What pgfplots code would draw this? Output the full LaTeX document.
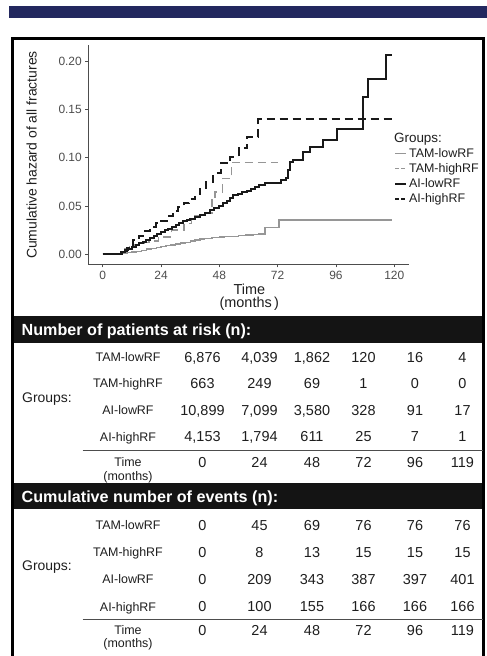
\documentclass[border=0pt]{standalone}
\usepackage{fontspec}
\setmainfont{Liberation Sans}
\usepackage{pgfplots}
\pgfplotsset{compat=1.18}
\definecolor{navy}{RGB}{35,40,95}
\definecolor{tamgrey}{RGB}{150,150,150}
\definecolor{aiblack}{RGB}{25,25,25}
\definecolor{tickgrey}{RGB}{77,77,77}
\definecolor{txt}{RGB}{30,30,30}
\newcommand{\fs}[1]{\fontsize{#1}{#1}\selectfont}
% numbers: baseline = centre + 5.2bp ; names: + 4.5bp
\newcommand{\num}[2]{\node[anchor=base, font=\fs{14.5}, text=txt, inner sep=0pt] at (#1,-#2-5.2) {\strut};}
\newcommand{\trow}[8]{%
  \node[anchor=base, font=\fs{12.5}, text=txt, inner sep=0pt] at (128,-#1-4.5) {#2};
  \node[anchor=base, font=\fs{14.5}, text=txt, inner sep=0pt] at (202.5,-#1-5.2) {#3};
  \node[anchor=base, font=\fs{14.5}, text=txt, inner sep=0pt] at (259.5,-#1-5.2) {#4};
  \node[anchor=base, font=\fs{14.5}, text=txt, inner sep=0pt] at (312,-#1-5.2) {#5};
  \node[anchor=base, font=\fs{14.5}, text=txt, inner sep=0pt] at (363.5,-#1-5.2) {#6};
  \node[anchor=base, font=\fs{14.5}, text=txt, inner sep=0pt] at (415,-#1-5.2) {#7};
  \node[anchor=base, font=\fs{14.5}, text=txt, inner sep=0pt] at (462.5,-#1-5.2) {#8};}
\begin{document}
\begin{tikzpicture}[x=1bp,y=1bp]
\useasboundingbox (0,-656) rectangle (487,0);
\fill[navy] (9,-6) rectangle (487,-18.3);
% header bars
\fill[black!92] (12.5,-316) rectangle (483.3,-342.7);
\fill[black!92] (12.5,-483.3) rectangle (483.3,-509.3);
\draw[line width=3bp, black] (12.5,-662) -- (12.5,-38.3) -- (483.3,-38.3) -- (483.3,-662);
\node[anchor=base west, text=white, font=\bfseries\fs{16.2}, inner sep=0pt] at (21.5,-335.2) {Number of patients at risk (n):};
\node[anchor=base west, text=white, font=\bfseries\fs{16.2}, inner sep=0pt] at (21.5,-502.2) {Cumulative number of events (n):};

\begin{axis}[
  at={(88.3bp,-264.3bp)}, anchor=south west,
  scale only axis, width=321bp, height=219bp,
  xmin=-5.93, xmax=126.2, ymin=-0.0103, ymax=0.2162,
  axis x line*=bottom, axis y line*=left,
  axis line style={tickgrey, line width=0.7bp},
  tick style={tickgrey, line width=0.7bp},
  tick align=outside, major tick length=3bp,
  xtick={0,24,48,72,96,120}, ytick={0,0.05,0.1,0.15,0.2},
  /pgf/number format/assume math mode=true,
  yticklabel style={/pgf/number format/.cd, fixed, fixed zerofill, precision=2},
  ticklabel style={font=\fs{12}, text=tickgrey},
  legend style={draw=none, fill=none, at={(0.952,0.609)}, anchor=north west,
    font=\fs{12.5}, inner sep=0pt, row sep=0pt,
    nodes={inner ysep=1.5bp, text height=9.5bp, text depth=2.5bp, text=txt}},
  legend cell align=left,
  legend image code/.code={\draw[#1] (0bp,0bp) -- (11bp,0bp);},
]
\addlegendimage{empty legend}
\addlegendentry{\hspace{-15bp}\fs{13.5}Groups:}
\addplot[const plot, tamgrey, line width=1.3bp] coordinates {
(0,0) (6.4,0) (8,0.0008) (10,0.0016) (12,0.0024) (14,0.0032) (16,0.0042) (18,0.0054) (20,0.0064) (22,0.0072) (24,0.0079) (26,0.0088) (28,0.0098) (30,0.0106) (32,0.0116) (34,0.0126) (36,0.0137) (38,0.0148) (40,0.0158) (42,0.0165) (45,0.0172) (48,0.0178) (50,0.0183) (53,0.0188) (56,0.0195) (59,0.0200) (62,0.0205) (64,0.0210) (66.8,0.0279) (72.6,0.0354) (119,0.0354)};
\addlegendentry{TAM-lowRF}
\addplot[const plot, tamgrey, line width=1.5bp, dash pattern=on 8bp off 5bp,
  legend image post style={dash pattern=on 3.5bp off 2.5bp}] coordinates {
(0,0) (6.4,0) (7.5,0.003) (9,0.0055) (11,0.0075) (13,0.0096) (17,0.0125) (19,0.014) (23,0.018) (28.4,0.025) (33.5,0.032) (36.6,0.0400) (41,0.0430) (44.9,0.056) (46.3,0.0647) (49.4,0.0785) (53.1,0.095) (72.3,0.095)};
\addlegendentry{TAM-highRF}
\addplot[const plot, aiblack, line width=2bp] coordinates {
(0,0) (6.4,0) (7.5,0.002) (9,0.004) (10.5,0.006) (12,0.008) (13.5,0.010) (15,0.0115) (16.5,0.013) (18,0.0150) (19.5,0.017) (21,0.019) (22.5,0.021) (24,0.0233) (25.5,0.025) (27,0.0265) (28.5,0.028) (30,0.030) (31.5,0.0325) (33,0.034) (34.5,0.0355) (36,0.037) (38,0.0388) (40,0.0406) (42,0.043) (44,0.0455) (46,0.048) (48,0.0505) (49.6,0.0527) (51,0.055) (52.5,0.058) (53.6,0.0613) (55.5,0.0625) (57.5,0.064) (59.5,0.066) (61,0.068) (62.7,0.070) (64.5,0.0715) (66.8,0.0733) (73.3,0.0768) (75.5,0.079) (76.4,0.087) (77.1,0.0957) (78.4,0.0974) (82.6,0.106) (85.3,0.1111) (90.8,0.118) (96.3,0.130) (107.2,0.1628) (109.3,0.1818) (116.6,0.2059) (118.9,0.2059)};
\addlegendentry{AI-lowRF}
\addplot[const plot, aiblack, line width=2bp, dash pattern=on 8bp off 5bp,
  legend image post style={dash pattern=on 3.5bp off 2.5bp}] coordinates {
(0,0) (6.4,0) (8,0.003) (10,0.007) (12.6,0.0148) (15,0.019) (17.5,0.024) (19.6,0.0285) (22,0.032) (24,0.035) (26.5,0.040) (29,0.045) (31,0.049) (33.4,0.053) (35.5,0.057) (38,0.062) (40,0.068) (42.5,0.075) (45.5,0.0837) (48.5,0.094) (52.5,0.1008) (56,0.1095) (59.5,0.1215) (64.1,0.1397) (118.9,0.1397)};
\addlegendentry{AI-highRF}
\end{axis}

\node[rotate=90, font=\fs{14}, text=txt] at (31.7,-155) {Cumulative hazard of all fractures};
\node[font=\fs{14.5}, text=txt] at (249.3,-289) {Time};
\node[font=\fs{14.5}, text=txt] at (249.3,-303.5) {(months\,)};

% table 1
\trow{357}{TAM-lowRF}{6,876}{4,039}{1,862}{120}{16}{4}
\trow{383.3}{TAM-highRF}{663}{249}{69}{1}{0}{0}
\trow{410}{AI-lowRF}{10,899}{7,099}{3,580}{328}{91}{17}
\trow{436.7}{AI-highRF}{4,153}{1,794}{611}{25}{7}{1}
\node[anchor=base, font=\fs{14}, text=txt, inner sep=0pt] at (47,-402) {Groups:};
\draw[tickgrey, line width=1bp] (82.7,-450) -- (483.3,-450);
\trow{462}{Time}{0}{24}{48}{72}{96}{119}
\node[anchor=base, font=\fs{12.5}, text=txt, inner sep=0pt] at (128,-480.5) {(months)};

% table 2
\trow{525}{TAM-lowRF}{0}{45}{69}{76}{76}{76}
\trow{552}{TAM-highRF}{0}{8}{13}{15}{15}{15}
\trow{579}{AI-lowRF}{0}{209}{343}{387}{397}{401}
\trow{606.7}{AI-highRF}{0}{100}{155}{166}{166}{166}
\node[anchor=base, font=\fs{14}, text=txt, inner sep=0pt] at (47,-570.5) {Groups:};
\draw[tickgrey, line width=1bp] (82.7,-619) -- (483.3,-619);
\trow{630}{Time}{0}{24}{48}{72}{96}{119}
\node[anchor=base, font=\fs{12.5}, text=txt, inner sep=0pt] at (128,-647.8) {(months)};
\end{tikzpicture}
\end{document}
